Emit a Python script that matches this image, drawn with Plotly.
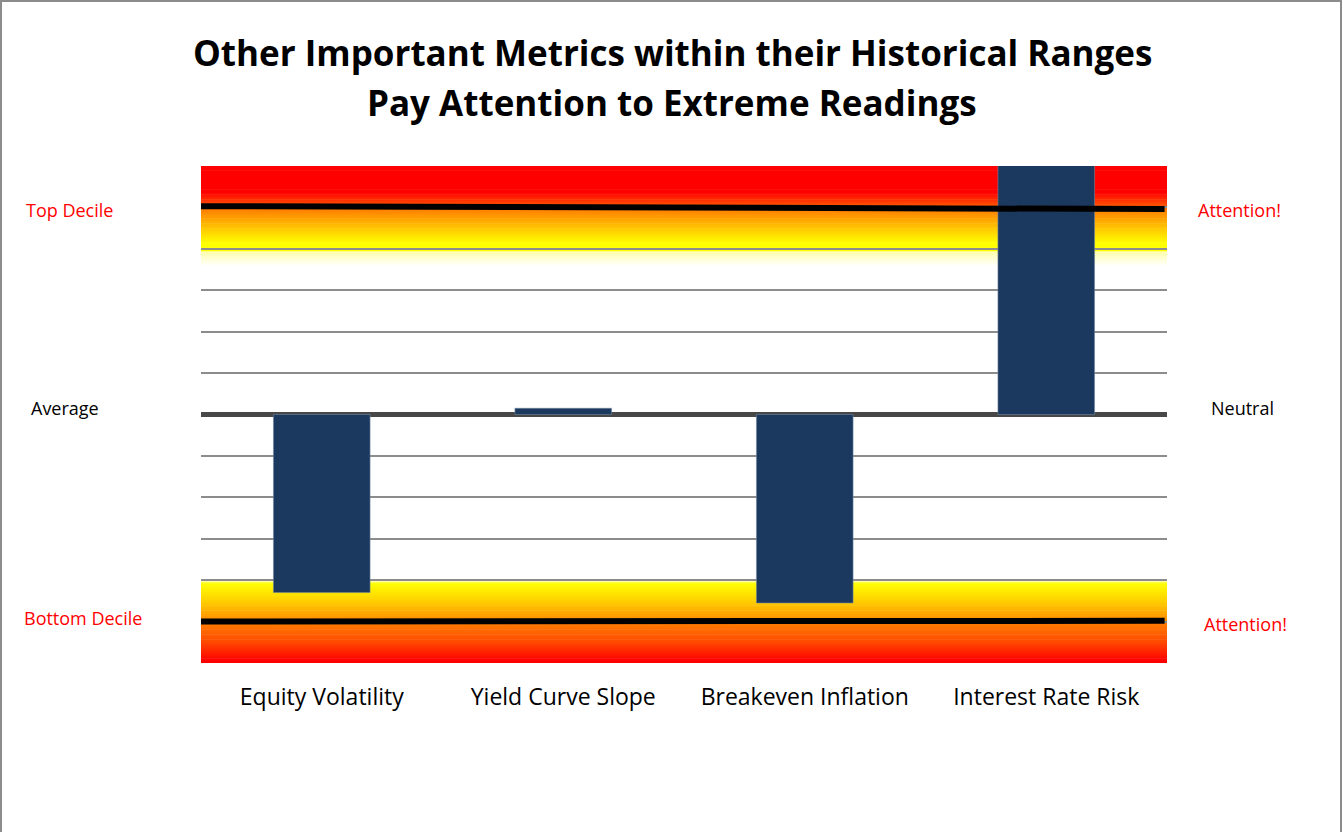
import plotly.graph_objects as go

# ---------------- data ----------------
categories = ["Equity Volatility", "Yield Curve Slope", "Breakeven Inflation", "Interest Rate Risk"]
values = [-4.3, 0.15, -4.55, 6.5]
top_decile_line = [5.03, 4.96]
bottom_decile_line = [-5.0, -4.98]
line_x = [-0.5, 3.49]
y_min, y_max = -6, 6

title_lines = ["Other Important Metrics within their Historical Ranges",
               "Pay Attention to Extreme Readings"]
left_labels = ["Top Decile", "Average", "Bottom Decile"]
right_labels = ["Attention!", "Neutral", "Attention!"]

# gradient colour stops (value, rgb)
top_stops = [(6.0, (255, 0, 0)), (5.38, (255, 0, 0)), (5.05, (255, 85, 0)),
             (4.95, (255, 130, 0)), (4.15, (255, 255, 0)), (3.97, (255, 255, 0)),
             (3.95, (255, 255, 170)), (3.6, (255, 255, 255))]
bottom_stops = [(-4.02, (255, 255, 230)), (-4.1, (255, 255, 0)), (-4.5, (255, 210, 0)),
                (-4.9, (255, 155, 0)), (-5.05, (255, 125, 0)), (-5.5, (255, 75, 0)),
                (-5.97, (255, 0, 0)), (-6.0, (255, 0, 0))]

FONT = "Open Sans"

W, H = 1343, 832
L, T, PW, PH = 201, 166, 966, 497


def px_x(px):
    return (px - L) / PW


def px_y(py):
    return (T + PH - py) / PH


def interp(stops, v):
    for (a, ca), (b, cb) in zip(stops[:-1], stops[1:]):
        lo, hi = min(a, b), max(a, b)
        if lo <= v <= hi:
            t = 0 if a == b else (v - a) / (b - a)
            return tuple(int(round(ca[i] + (cb[i] - ca[i]) * t)) for i in range(3))
    return stops[-1][1]


def strips(stops, step=0.02):
    shapes = []
    start, end = stops[0][0], stops[-1][0]
    n = int(round(abs(end - start) / step))
    sgn = 1 if end > start else -1
    for k in range(n):
        y0 = start + sgn * k * step
        y1 = start + sgn * (k + 1) * step
        c = interp(stops, (y0 + y1) / 2)
        # extend each strip back over the previous one to hide anti-alias seams
        y0e = y0 - sgn * step * 0.8 if k > 0 else y0
        shapes.append(dict(type="rect", xref="x", yref="y", x0=-0.5, x1=3.5,
                           y0=y0e, y1=y1, layer="below", line=dict(width=0),
                           fillcolor=f"rgb{c}"))
    return shapes


fig = go.Figure()
fig.add_trace(go.Bar(x=categories, y=values, width=0.4,
                     marker=dict(color="#1b385e", line=dict(color="#6f84a0", width=0.6)),
                     cliponaxis=True, hoverinfo="skip"))

fig.add_trace(go.Scatter(x=line_x, y=top_decile_line, mode="lines", xaxis="x2",
                         line=dict(color="black", width=6), hoverinfo="skip"))
fig.add_trace(go.Scatter(x=line_x, y=bottom_decile_line, mode="lines", xaxis="x2",
                         line=dict(color="black", width=6), hoverinfo="skip"))

shapes = strips(top_stops[::-1]) + strips(bottom_stops)
# outer frame
shapes.append(dict(type="rect", xref="paper", yref="paper", x0=px_x(1), x1=px_x(1341),
                   y0=px_y(900), y1=px_y(1), line=dict(color="#8c8c8c", width=2),
                   fillcolor="rgba(0,0,0,0)", layer="above"))

annotations = []
for txt, py in zip(title_lines, [52, 102]):
    annotations.append(dict(text="<b>" + txt + "</b>", xref="paper", yref="paper",
                            x=px_x(672), y=px_y(py), xanchor="center", yanchor="middle",
                            showarrow=False, font=dict(family=FONT, size=35, color="black")))
left_pos = [(69, 210, "red"), (65, 408, "black"), (83, 618, "red")]
right_pos = [(1239, 210, "red"), (1242, 408, "black"), (1245, 624, "red")]
for txt, (px, py, col) in zip(left_labels + right_labels, left_pos + right_pos):
    annotations.append(dict(text=txt, xref="paper", yref="paper", x=px_x(px),
                            y=px_y(py), xanchor="center", yanchor="middle",
                            showarrow=False, font=dict(family=FONT, size=18, color=col)))

fig.update_layout(
    width=W, height=H,
    margin=dict(l=L, r=W - L - PW, t=T, b=H - T - PH, pad=0),
    paper_bgcolor="white", plot_bgcolor="white",
    showlegend=False,
    shapes=shapes, annotations=annotations,
    xaxis=dict(range=[-0.5, 3.5], showgrid=False, zeroline=False, showline=False,
               ticks="outside", ticklen=13, tickcolor="rgba(0,0,0,0)",
               tickfont=dict(family=FONT, size=23, color="black")),
    xaxis2=dict(range=[-0.5, 3.5], overlaying="x", visible=False),
    yaxis=dict(range=[y_min, y_max], dtick=1, tick0=0, showgrid=True,
               gridcolor="#8c8c8c", gridwidth=2, showticklabels=False,
               zeroline=True, zerolinecolor="#484848", zerolinewidth=5,
               showline=False),
)

fig.write_html("out.html", config={"displayModeBar": False},
               post_script="document.body.style.margin='0';document.body.style.overflow='hidden';")
